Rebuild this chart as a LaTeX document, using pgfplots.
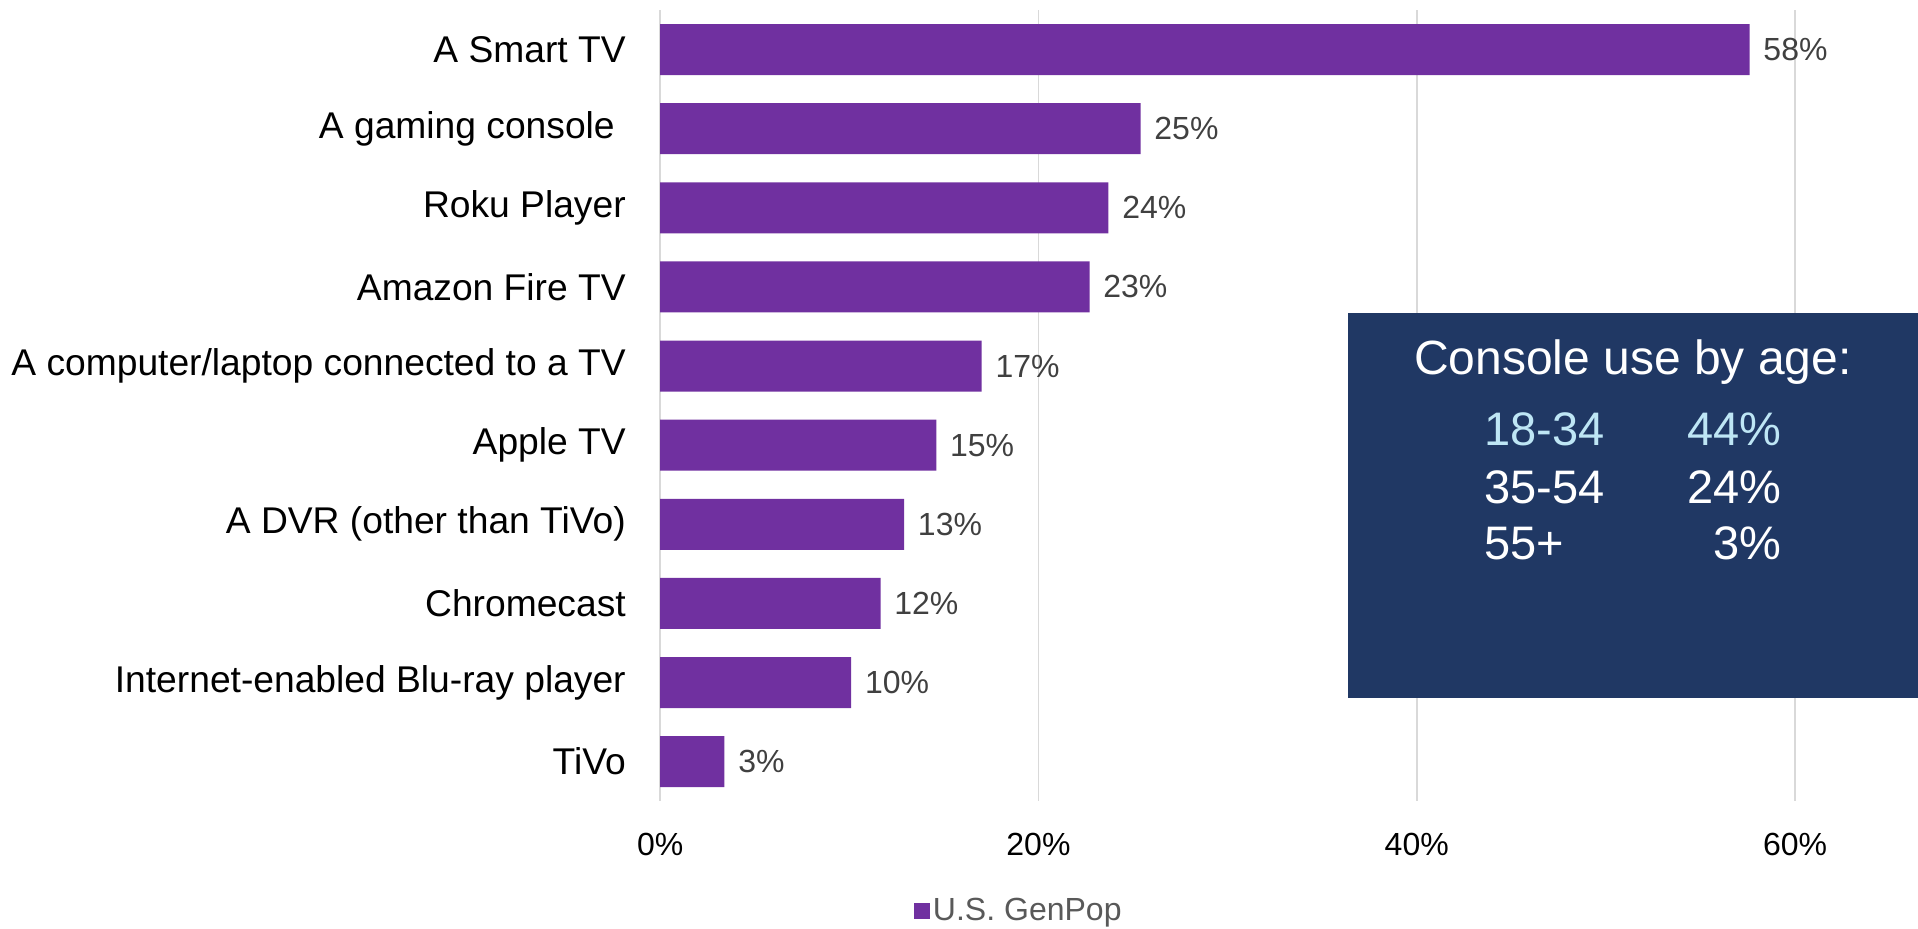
\documentclass[border=0pt]{standalone}
\usepackage{pgfplots}
\pgfplotsset{compat=1.18}
\usepackage{pgfplotstable}
\usepackage{fontspec}
\setmainfont{Liberation Sans}

\definecolor{barpurple}{HTML}{7030A0}
\definecolor{boxnavy}{HTML}{203864}
\definecolor{lightcyan}{RGB}{190,230,245}
\definecolor{labelgray}{HTML}{404040}
\definecolor{legendgray}{HTML}{595959}
\definecolor{gridgray}{HTML}{D9D9D9}

% device share, U.S. GenPop (bar length in %, label)
\pgfplotstableread{
y x lab
0 57.6 58
1 25.4 25
2 23.7 24
3 22.7 23
4 17.0 17
5 14.6 15
6 12.9 13
7 11.65 12
8 10.1 10
9 3.4 3
}\devices

\begin{document}
\begin{tikzpicture}
\begin{axis}[
    scale only axis,
    width=628.75pt, height=395.5pt,
    xmin=0, xmax=66.5,
    ymin=-0.5, ymax=9.5,
    y dir=reverse,
    xbar, bar width=25.5pt,
    axis line style={draw=none},
    major tick length=0pt,
    xtick={0,20,40,60},
    xticklabels={0\%,20\%,40\%,60\%},
    xmajorgrids,
    major grid style={gridgray, line width=0.75pt},
    ytick={0,...,9},
    yticklabels={A Smart TV, {A gaming console\kern5.5pt}, Roku Player, Amazon Fire TV,
        A computer/laptop connected to a TV, Apple TV, A DVR (other than TiVo),
        Chromecast, Internet-enabled Blu-ray player, TiVo},
    yticklabel style={font=\fontsize{18.6}{20}\selectfont, text=black,
        inner sep=0pt, anchor=east, xshift=-17pt},
    xticklabel style={font=\fontsize{16}{18}\selectfont, text=black,
        inner sep=0pt, anchor=center, yshift=-21.5pt},
    legend style={at={(0.2855,-0.139)}, anchor=center, draw=none, fill=none,
        font=\fontsize{16}{18}\selectfont, text=legendgray,
        inner sep=0pt, nodes={inner sep=1.5pt}},
    legend image code/.code={\fill[barpurple] (0pt,-4pt) rectangle (8pt,4pt);},
]
\addplot[fill=barpurple, draw=none,
    point meta=explicit symbolic,
    nodes near coords={\pgfplotspointmeta\%},
    every node near coord/.append style={anchor=west, inner sep=0pt,
        xshift=6.7pt, font=\fontsize{16}{18}\selectfont, text=labelgray}]
    table[x=x, y=y, meta=lab]{\devices};
\addlegendentry{U.S. GenPop}
\end{axis}

% callout box
\fill[boxnavy] (343.75pt,51.5pt) rectangle (628.75pt,244pt);
\node[anchor=base, text=white, font=\fontsize{24}{26}\selectfont, inner sep=0pt]
    at (486.25pt,213.5pt) {Console use by age:};
\begin{scope}[every node/.style={inner sep=0pt, font=\fontsize{23.5}{25}\selectfont}]
\node[anchor=base west, text=lightcyan] at (411.75pt,178pt) {18-34};
\node[anchor=base east, text=lightcyan] at (560.75pt,178pt) {44\%};
\node[anchor=base west, text=white] at (411.75pt,149pt) {35-54};
\node[anchor=base east, text=white] at (560.75pt,149pt) {24\%};
\node[anchor=base west, text=white] at (411.75pt,121pt) {55+};
\node[anchor=base east, text=white] at (560.75pt,121pt) {3\%};
\end{scope}

\pgfresetboundingbox
\path[use as bounding box] (-330pt,-63.5pt) rectangle (628.75pt,400.5pt);
\end{tikzpicture}
\end{document}
